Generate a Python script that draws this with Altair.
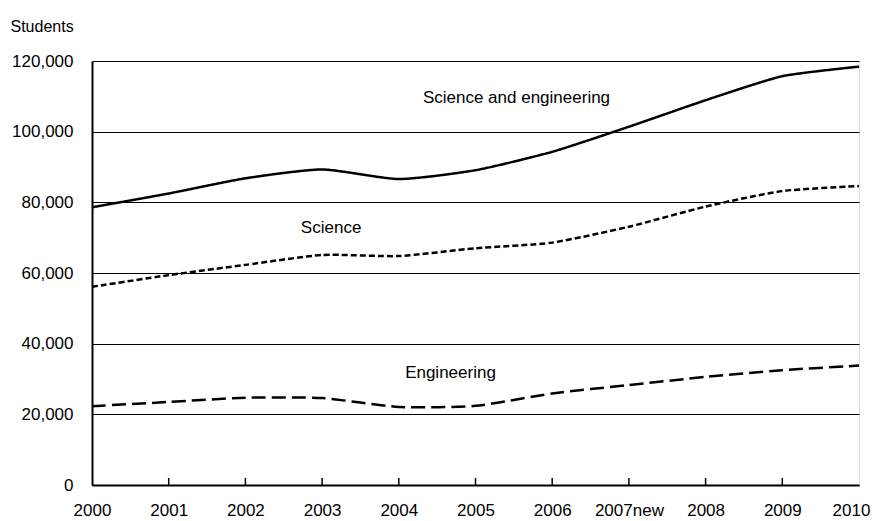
import altair as alt
import pandas as pd

years = ["2000", "2001", "2002", "2003", "2004", "2005", "2006", "2007new", "2008", "2009", "2010"]
sci_eng = [78600, 82500, 86800, 89300, 86600, 89100, 94300, 101400, 108900, 115700, 118400]
science = [56100, 59400, 62300, 65100, 64800, 67000, 68600, 73100, 78800, 83200, 84600]
engineering = [22300, 23500, 24700, 24600, 22100, 22400, 25900, 28300, 30600, 32500, 33800]
series_names = ["Science and engineering", "Science", "Engineering"]

label_years = ["2005", "2003", "2005"]
label_values = [109500, 72800, 31700]
label_dx = [41, 9, -25]

tick_years = years[1:-1]

rows = []
for name, vals in zip(series_names, [sci_eng, science, engineering]):
    for yr, v in zip(years, vals):
        rows.append({"year": yr, "value": v, "series": name})
df = pd.DataFrame(rows)

labels_df = pd.DataFrame({"year": label_years, "value": label_values,
                          "text": series_names, "dx": label_dx})
ticks_df = pd.DataFrame({"year": tick_years})

FONT = "Liberation Sans"

x_enc = alt.X("year:N", sort=years,
              scale=alt.Scale(type="point", domain=years, padding=0),
              axis=alt.Axis(title=None, ticks=False, labelPadding=17, labelFontSize=17,
                            labelFont=FONT, labelColor="black", domainColor="black",
                            domainWidth=2, labelAngle=0, grid=False,
                            labelOffset={"condition": {"test": "datum.value == '2010'",
                                                       "value": -8},
                                         "value": 0}))
y_enc = alt.Y("value:Q",
              scale=alt.Scale(domain=[0, 120000], nice=False, zero=True),
              axis=alt.Axis(title="Students", titleAngle=0, titleAlign="left",
                            titleBaseline="middle", titleX=-82, titleY=-35,
                            titleFont=FONT, titleFontSize=16, titleFontWeight="normal",
                            titleColor="black",
                            values=[0, 20000, 40000, 60000, 80000, 100000, 120000],
                            format=",d", ticks=False, labelPadding=19, labelFontSize=17,
                            labelFont=FONT, labelColor="black", domainColor="black",
                            domainWidth=2, grid=True, gridColor="black", gridWidth=1,
                            gridOpacity=1))

lines = alt.Chart(df).mark_line(color="black", strokeWidth=2.5, interpolate="cardinal",
                                tension=0.4).encode(
    x=x_enc,
    y=y_enc,
    strokeDash=alt.StrokeDash("series:N",
                              scale=alt.Scale(domain=series_names,
                                              range=[[1, 0], [6, 3], [14, 6]]),
                              legend=None),
    detail="series:N",
)

ticks = alt.Chart(ticks_df).mark_rule(color="black", strokeWidth=1.5).encode(
    x=alt.X("year:N", sort=years),
    y=alt.value(424),
    y2=alt.value(417),
)

texts = alt.Chart(labels_df).mark_text(font=FONT, fontSize=17, color="black",
                                        align="center", baseline="middle").encode(
    x=alt.X("year:N", sort=years),
    y=alt.Y("value:Q"),
    text="text:N",
    xOffset=alt.XOffset("dx:Q", scale=None),
)

chart = alt.layer(lines, ticks, texts).properties(
    width=767, height=424,
    padding={"left": 84, "top": 53, "right": 12, "bottom": 36},
    autosize=alt.AutoSizeParams(type="none"),
).configure_view(stroke="black", strokeWidth=1.5).configure(background="white")

chart.save("out.html", embed_options={"renderer": "svg", "actions": False})
